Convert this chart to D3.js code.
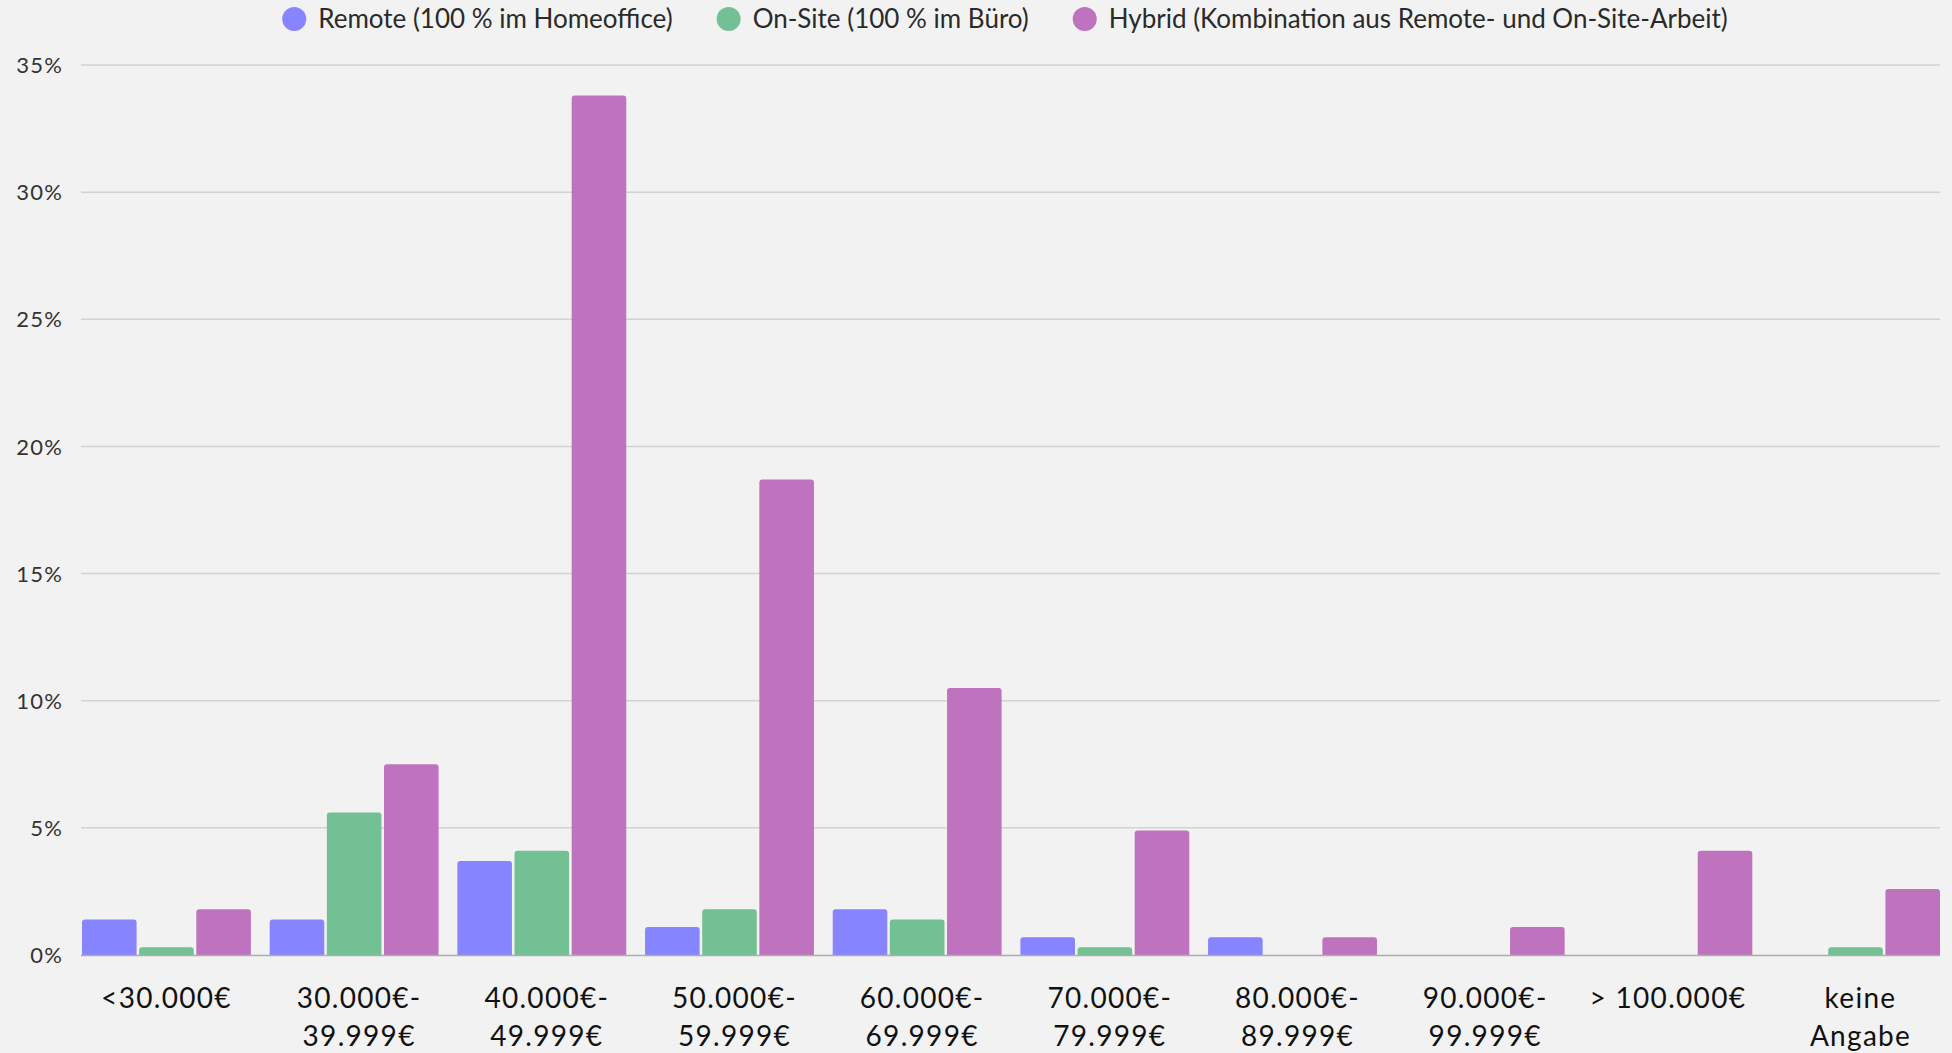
<!DOCTYPE html>
<html>
<head>
<meta charset="utf-8">
<script src="https://cdn.jsdelivr.net/npm/d3@7"></script>
<style>
  html, body { margin: 0; padding: 0; background: #f2f2f2; }
  svg { display: block; }
  text { font-family: Lato, "Noto Sans", sans-serif; }
</style>
</head>
<body>
<svg id="chart" width="1952" height="1053"></svg>
<script>
// Salary bands (x categories), each label split into display lines
const categories = ["<30k", "30-40k", "40-50k", "50-60k", "60-70k", "70-80k", "80-90k", "90-100k", ">100k", "k.A."];
const categoryLabels = [
  ["<30.000€"],
  ["30.000€-", "39.999€"],
  ["40.000€-", "49.999€"],
  ["50.000€-", "59.999€"],
  ["60.000€-", "69.999€"],
  ["70.000€-", "79.999€"],
  ["80.000€-", "89.999€"],
  ["90.000€-", "99.999€"],
  ["> 100.000€"],
  ["keine", "Angabe"]
];

// Share of respondents per salary band, in percent
const remoteValues = [1.4, 1.4, 3.7, 1.1, 1.8, 0.7, 0.7, 0, 0, 0];
const onsiteValues = [0.3, 5.6, 4.1, 1.8, 1.4, 0.3, 0, 0, 0, 0.3];
const hybridValues = [1.8, 7.5, 33.8, 18.7, 10.5, 4.9, 0.7, 1.1, 4.1, 2.6];

const seriesNames = [
  "Remote (100 % im Homeoffice)",
  "On-Site (100 % im Büro)",
  "Hybrid (Kombination aus Remote- und On-Site-Arbeit)"
];
const seriesColors = ["#8784ff", "#74c095", "#bf73bf"];
const yTicks = [0, 5, 10, 15, 20, 25, 30, 35];

const seriesValues = [remoteValues, onsiteValues, hybridValues];

const svg = d3.select("#chart");
const margin = { left: 82, right: 12, top: 65, bottom: 98 };
const W = 1952, H = 1053;

const x0 = d3.scaleBand()
  .domain(categories)
  .range([margin.left, W - margin.right])
  .paddingInner(0.1)
  .paddingOuter(0);

const x1 = d3.scaleBand()
  .domain(d3.range(seriesNames.length))
  .range([0, x0.bandwidth()])
  .paddingInner(0.045);

const y = d3.scaleLinear()
  .domain([0, 35])
  .range([H - margin.bottom, margin.top]);

// Horizontal gridlines
svg.append("g")
  .selectAll("line")
  .data(yTicks.filter(t => t > 0))
  .join("line")
  .attr("x1", margin.left - 1)
  .attr("x2", W - margin.right)
  .attr("y1", d => y(d))
  .attr("y2", d => y(d))
  .attr("stroke", "#d2d2d2")
  .attr("stroke-width", 1.5);

// Y axis labels
const yAxis = d3.axisLeft(y).tickValues(yTicks).tickFormat(d => d + "%").tickSize(0).tickPadding(0);
const yG = svg.append("g")
  .attr("transform", `translate(${margin.left - 19},0)`)
  .call(yAxis);
yG.select(".domain").remove();
yG.selectAll("text")
  .attr("font-size", 22)
  .attr("font-family", "Lato, sans-serif")
  .attr("letter-spacing", 1.2)
  .attr("fill", "#333")
  .attr("dy", "0.35em");

// Rounded-top bar path
function barPath(x, yTop, w, h, r) {
  if (h <= 0) return "";
  r = Math.min(r, h, w / 2);
  return `M${x},${yTop + h}V${yTop + r}Q${x},${yTop} ${x + r},${yTop}H${x + w - r}Q${x + w},${yTop} ${x + w},${yTop + r}V${yTop + h}Z`;
}

const barData = [];
categories.forEach((c, i) => {
  seriesValues.forEach((vals, s) => {
    barData.push({ cat: c, s, v: vals[i] });
  });
});

svg.append("g")
  .selectAll("path")
  .data(barData.filter(d => d.v > 0))
  .join("path")
  .attr("d", d => {
    const bx = x0(d.cat) + x1(d.s);
    const top = y(d.v);
    return barPath(bx, top, x1.bandwidth(), y(0) - top, 3);
  })
  .attr("fill", d => seriesColors[d.s]);

// Baseline
svg.append("line")
  .attr("x1", margin.left - 1)
  .attr("x2", W - margin.right)
  .attr("y1", y(0) + 0.5)
  .attr("y2", y(0) + 0.5)
  .attr("stroke", "#adadad")
  .attr("stroke-width", 1.5);

// X axis labels (multi-line)
const xLab = svg.append("g")
  .selectAll("text")
  .data(categories)
  .join("text")
  .attr("x", d => x0(d) + x0.bandwidth() / 2)
  .attr("y", y(0) + 53)
  .attr("text-anchor", "middle")
  .attr("font-size", 28)
  .attr("letter-spacing", 1.3)
  .attr("fill", "#111");
xLab.each(function (d, i) {
  const t = d3.select(this);
  categoryLabels[i].forEach((line, k) => {
    t.append("tspan")
      .attr("x", x0(d) + x0.bandwidth() / 2 + (categoryLabels[i].length > 1 ? 5 : 0))
      .attr("dy", k === 0 ? 0 : 38)
      .text(line);
  });
});

// Legend, centered at top
const legend = svg.append("g");
const items = legend.selectAll("g")
  .data(seriesNames)
  .join("g");
items.append("circle")
  .attr("r", 12)
  .attr("cx", 12)
  .attr("cy", 0)
  .attr("fill", (d, i) => seriesColors[i]);
items.append("text")
  .attr("x", 36)
  .attr("y", 0)
  .attr("dy", "0.35em")
  .attr("font-size", 26)
  .attr("fill", "#2a2a2a")
  .text(d => d);
let offset = 0;
items.each(function () {
  const g = d3.select(this);
  g.attr("transform", `translate(${offset},0)`);
  const tw = g.select("text").node().getComputedTextLength();
  offset += 36 + tw + 44;
});
const totalW = offset - 44;
legend.attr("transform", `translate(${1005 - totalW / 2},19)`);
</script>
</body>
</html>
